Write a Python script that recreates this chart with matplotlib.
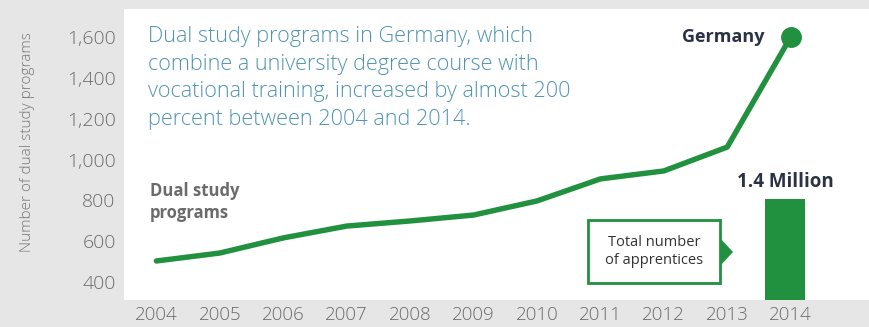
import matplotlib.pyplot as plt
from matplotlib.patches import Rectangle, Polygon

plt.rcParams['font.family'] = ['Open Sans', 'DejaVu Sans']

years = [2004, 2005, 2006, 2007, 2008, 2009, 2010, 2011, 2012, 2013, 2014]
programs = [503, 542, 616, 674, 699, 728, 797, 905, 944, 1061, 1600]
apprentices_year = 2014
apprentices_mio = 1.4
y_ticks = [400, 600, 800, 1000, 1200, 1400, 1600]

green = '#21913f'
navy = '#2b3245'
grey = '#6b6b6b'

fig = plt.figure(figsize=(8.7, 3.27), dpi=100)
fig.patch.set_facecolor('#e6e6e6')
ax = fig.add_axes([124 / 870, 27 / 327, 746 / 870, 291 / 327])
ax.set_facecolor('white')

# second scale for the apprentices bar
bar_x = apprentices_year - 0.09
ax2 = ax.twinx()
ax2.bar(bar_x, apprentices_mio, width=0.63, color=green, zorder=1)
ax2.set_ylim(0, 4.03)
ax2.set_yticks([])
ax2.annotate('1.4 Million', xy=(bar_x, apprentices_mio), xytext=(0, 5),
             textcoords='offset points', ha='center', va='bottom',
             fontsize=13.5, fontweight='bold', color=navy)

ax.set_zorder(ax2.get_zorder() + 1)
ax.patch.set_visible(False)
ax2.patch.set_visible(True)
ax2.patch.set_facecolor('white')
ax2.set_zorder(0)

ax.plot(years, programs, color=green, linewidth=3.9, solid_capstyle='round',
        solid_joinstyle='round', zorder=3)
ax.plot(years[-1], programs[-1], 'o', color=green, markersize=14, zorder=4)

ax.set_xlim(2003.49, 2015.25)
ax.set_ylim(312, 1737)
ax.set_xticks(years)
ax.set_yticks(y_ticks)
ax.set_yticklabels([f'{v:,}' for v in y_ticks])
ax.tick_params(axis='y', length=0, pad=6, labelsize=14, labelcolor=grey)
ax.tick_params(axis='x', length=0, pad=4, labelsize=13.5, labelcolor=grey)
for lbl in ax.get_xticklabels() + ax.get_yticklabels():
    lbl.set_fontweight('light')
for a in (ax, ax2):
    for s in a.spines.values():
        s.set_visible(False)

fig.text(28 / 870, 1 - 142 / 327, 'Number of dual study programs', rotation=90,
         ha='center', va='center', fontsize=11, color='#777777', fontweight='light')

ax.text(0.032, 0.94,
        'Dual study programs in Germany, which\ncombine a university degree course with\n'
        'vocational training, increased by almost 200\npercent between 2004 and 2014.',
        transform=ax.transAxes, ha='left', va='top', fontsize=15.6, fontweight='light',
        color='#4f94b5', linespacing=1.4)

ax.text(0.035, 0.405, 'Dual study\nprograms', transform=ax.transAxes, ha='left', va='top',
        fontsize=12, fontweight='bold', color=grey, linespacing=1.3)

ax.text(0.859, 0.904, 'Germany', transform=ax.transAxes, ha='right', va='center',
        fontsize=13, fontweight='bold', color=navy)

# callout box pointing at the bar
bx0, bx1 = (588 - 124) / 746, (720 - 124) / 746
by0, by1 = (300 - 283) / 291, (300 - 220) / 291
ax.add_patch(Rectangle((bx0, by0), bx1 - bx0, by1 - by0, transform=ax.transAxes,
                       facecolor='white', edgecolor=green, linewidth=2, zorder=5))
ax.add_patch(Polygon([(bx1, (300 - 238) / 291), ((733 - 124) / 746, (300 - 252) / 291),
                      (bx1, (300 - 266) / 291)], closed=True, transform=ax.transAxes,
                     facecolor=green, edgecolor='none', zorder=5))
ax.text((bx0 + bx1) / 2, (by0 + by1) / 2, 'Total number\nof apprentices',
        transform=ax.transAxes, ha='center', va='center', fontsize=10.5,
        color='#333333', linespacing=1.3, zorder=6)

fig.savefig('out.png', dpi=100, facecolor=fig.get_facecolor())
